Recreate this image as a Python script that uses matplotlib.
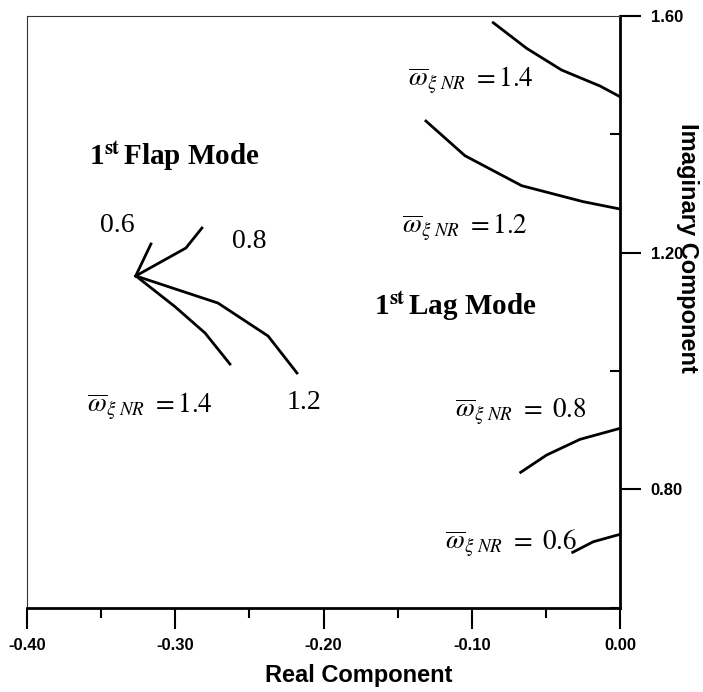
import matplotlib
matplotlib.use('Agg')
import matplotlib.pyplot as plt
from matplotlib.ticker import FormatStrFormatter

# root locus data (real, imaginary)
flap_06_x = [-0.3267, -0.3164]
flap_06_y = [1.1606, 1.2147]
flap_08_x = [-0.3267, -0.2928, -0.2820]
flap_08_y = [1.1606, 1.2079, 1.2417]
flap_12_x = [-0.3265, -0.2712, -0.2374, -0.2179]
flap_12_y = [1.1606, 1.1149, 1.0592, 0.9967]
flap_14_x = [-0.3265, -0.3002, -0.2799, -0.2631]
flap_14_y = [1.1606, 1.1088, 1.0642, 1.0118]

lag_14_x = [-0.0855, -0.0630, -0.0394, -0.0135, 0.0]
lag_14_y = [1.5887, 1.5454, 1.5087, 1.4817, 1.4636]
lag_12_x = [-0.1309, -0.1046, -0.0663, -0.0248, 0.0]
lag_12_y = [1.4225, 1.3639, 1.3132, 1.2862, 1.2738]
lag_08_x = [-0.0670, -0.0495, -0.0270, 0.0]
lag_08_y = [0.8288, 0.8580, 0.8845, 0.9031]
lag_06_x = [-0.0319, -0.0180, 0.0]
lag_06_y = [0.6936, 0.7115, 0.7240]

x_major = [-0.40, -0.30, -0.20, -0.10, 0.00]
x_minor = [-0.35, -0.25, -0.15, -0.05]
y_major = [0.80, 1.20, 1.60]
y_minor = [0.60, 1.00, 1.40]

plt.rcParams['axes.unicode_minus'] = False
plt.rcParams['mathtext.fontset'] = 'stix'

serif = ['Liberation Serif', 'DejaVu Serif']
sans = ['Liberation Sans', 'DejaVu Sans']

fig = plt.figure(figsize=(7.03, 6.92), dpi=100)
ax = fig.add_axes([27 / 703, 1 - 607.7 / 692, 593 / 703, 591.7 / 692])

ax.set_xlim(-0.40, 0.00)
ax.set_ylim(0.60, 1.60)

curves = [(flap_06_x, flap_06_y), (flap_08_x, flap_08_y),
          (flap_12_x, flap_12_y), (flap_14_x, flap_14_y),
          (lag_14_x, lag_14_y), (lag_12_x, lag_12_y),
          (lag_08_x, lag_08_y), (lag_06_x, lag_06_y)]
for cx, cy in curves:
    ax.plot(cx, cy, color='k', lw=2.0, solid_joinstyle='miter', clip_on=False)

# frame: thick bottom/right axes, thin top/left box
ax.spines['bottom'].set_linewidth(2.0)
ax.spines['right'].set_linewidth(2.0)
ax.spines['top'].set_linewidth(0.8)
ax.spines['left'].set_linewidth(0.8)
ax.spines['top'].set_color('#333333')
ax.spines['left'].set_color('#333333')

ax.set_xticks(x_major)
ax.set_xticks(x_minor, minor=True)
ax.xaxis.set_major_formatter(FormatStrFormatter('%.2f'))
ax.yaxis.tick_right()
ax.set_yticks(y_major)
ax.set_yticks(y_minor, minor=True)
ax.yaxis.set_major_formatter(FormatStrFormatter('%.2f'))

ax.tick_params(axis='x', which='major', direction='out', length=15, width=1.5, pad=7)
ax.tick_params(axis='x', which='minor', direction='out', length=7.5, width=1.5)
ax.tick_params(axis='y', which='major', direction='out', length=15, width=1.5, pad=7,
               left=False, right=True)
ax.tick_params(axis='y', which='minor', direction='in', length=7.5, width=1.5,
               left=False, right=True)
for lab in ax.get_xticklabels() + ax.get_yticklabels():
    lab.set_family(sans)
    lab.set_fontweight('bold')
    lab.set_fontsize(12)

ax.set_xlabel('Real Component', family=sans, fontweight='bold', fontsize=17)
ax.xaxis.set_label_coords(0.559, -0.114)
ax.xaxis.label.set_va('center')
ax.yaxis.set_label_position('right')
ax.set_ylabel('Imaginary Component', family=sans, fontweight='bold', fontsize=17,
              rotation=-90)
ax.yaxis.set_label_coords(1.113, 0.608)
ax.yaxis.label.set_va('center')

# annotations
title_kw = dict(family=serif, fontweight='bold', fontsize=21, va='center', ha='left')
ax.text(-0.3580, 1.3626, r'1$^{\mathbf{st}}\,$Flap Mode', **title_kw)
ax.text(-0.1658, 1.108, r'1$^{\mathbf{st}}\,$Lag Mode', **title_kw)

num_kw = dict(family=serif, fontsize=20, va='center', ha='center')
ax.text(-0.3390, 1.2465, '0.6', **num_kw)
ax.text(-0.2499, 1.2197, '0.8', **num_kw)
ax.text(-0.2135, 0.946, '1.2', **num_kw)

om_kw = dict(fontsize=19.5, va='center', ha='left')
ax.text(-0.3595, 0.9392, r'$\overline{\omega}_{\xi\ NR}\ \mathrm{=1.4}$', **om_kw)
ax.text(-0.1430, 1.4897, r'$\overline{\omega}_{\xi\ NR}\ \mathrm{=1.4}$', **om_kw)
ax.text(-0.1470, 1.2425, r'$\overline{\omega}_{\xi\ NR}\ \mathrm{=1.2}$', **om_kw)
ax.text(-0.1113, 0.9307, r'$\overline{\omega}_{\xi\ NR}\ \mathrm{=\ 0.8}$', **om_kw)
ax.text(-0.1180, 0.7076, r'$\overline{\omega}_{\xi\ NR}\ \mathrm{=\ 0.6}$', **om_kw)

fig.savefig('out.png', dpi=100)
